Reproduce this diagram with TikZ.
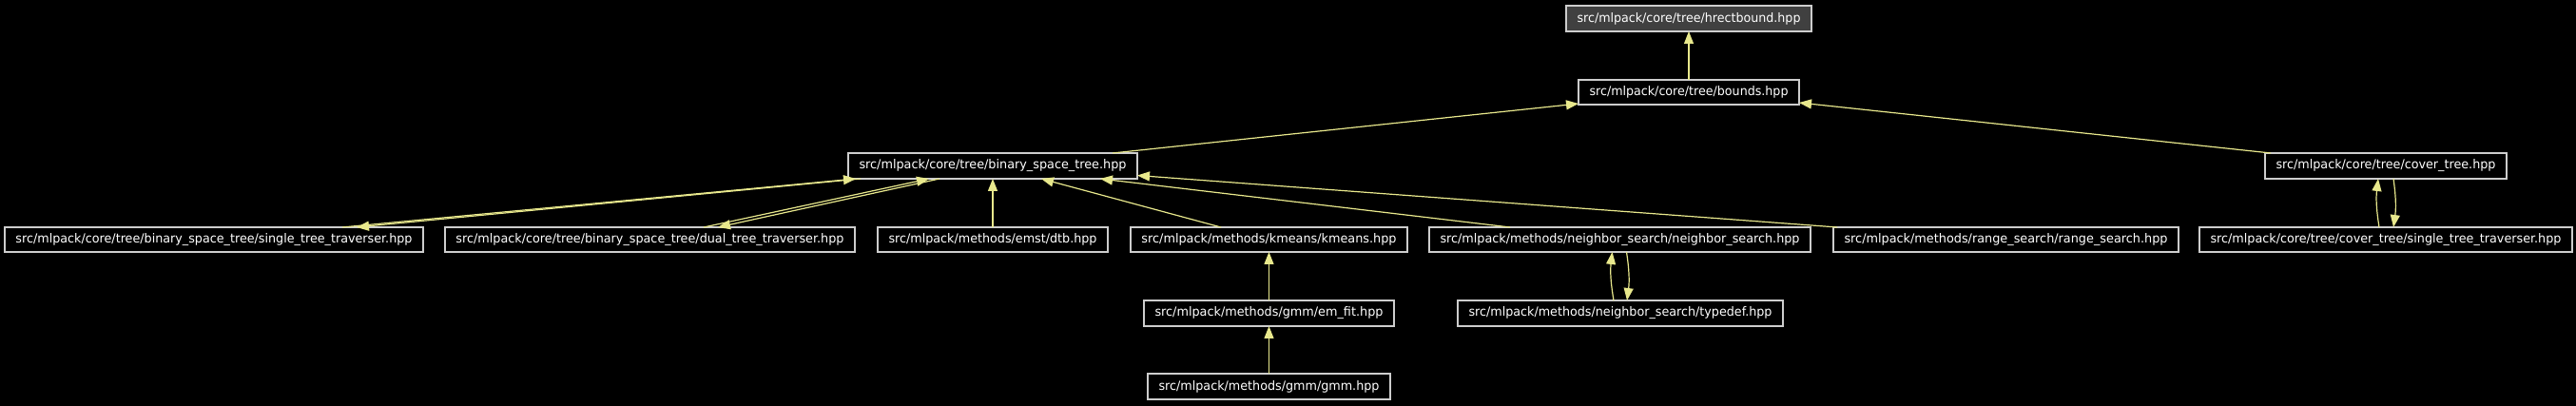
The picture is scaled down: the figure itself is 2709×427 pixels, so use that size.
\documentclass[tikz,border=0pt]{standalone}
\usepackage{fontspec}
\setmainfont{DejaVu Sans}
\usepackage{graphicx}
\usetikzlibrary{arrows.meta}
\definecolor{edgec}{RGB}{232,232,140}
\definecolor{boxc}{RGB}{205,205,205}
\definecolor{hfill}{RGB}{64,64,64}
\newcommand\gnode[7][]{%
  \pgfmathsetlengthmacro\gw{(#4-#3)*1pt}%
  \pgfmathsetlengthmacro\gh{(#6-#5)*1pt}%
  \pgfmathsetlengthmacro\gtw{(#4-#3-23)*1pt}%
  \node[gbox,#1,minimum width=\gw,minimum height=\gh] (#2) at ({(#3+#4)/2},{(#5+#6)/2}) {\resizebox{\gtw}{10pt}{#7}};%
}
\begin{document}
\begin{tikzpicture}[x=1pt,y=-1pt,
  gbox/.style={rectangle,draw=boxc,line width=1.3pt,fill=black,text=white,inner sep=0pt,outer sep=0pt},
  dep/.style={draw=edgec,line width=1.2pt,-{Triangle[length=13pt,width=10pt]}}]
\fill[black] (0,0) rectangle (2709,427);
\useasboundingbox (0,0) rectangle (2709,427);
\gnode[fill=hfill]{hrect}{1647}{1905}{6}{33}{src/mlpack/core/tree/hrectbound.hpp}
\gnode{bounds}{1660}{1892}{84}{110}{src/mlpack/core/tree/bounds.hpp}
\gnode{bst}{892}{1196}{161}{188}{src/mlpack/core/tree/binary\_space\_tree.hpp}
\gnode{cover}{2382}{2636}{161}{188}{src/mlpack/core/tree/cover\_tree.hpp}
\gnode{bsts}{5}{445}{239}{265}{src/mlpack/core/tree/binary\_space\_tree/single\_tree\_traverser.hpp}
\gnode{dual}{468}{899}{239}{265}{src/mlpack/core/tree/binary\_space\_tree/dual\_tree\_traverser.hpp}
\gnode{dtb}{923}{1165}{239}{265}{src/mlpack/methods/emst/dtb.hpp}
\gnode{kmeans}{1189}{1480}{239}{265}{src/mlpack/methods/kmeans/kmeans.hpp}
\gnode{ns}{1503}{1904}{239}{265}{src/mlpack/methods/neighbor\_search/neighbor\_search.hpp}
\gnode{rs}{1928}{2291}{239}{265}{src/mlpack/methods/range\_search/range\_search.hpp}
\gnode{csts}{2313}{2705}{239}{265}{src/mlpack/core/tree/cover\_tree/single\_tree\_traverser.hpp}
\gnode{emfit}{1203}{1466}{316}{343}{src/mlpack/methods/gmm/em\_fit.hpp}
\gnode{typedef}{1533}{1875}{316}{343}{src/mlpack/methods/neighbor\_search/typedef.hpp}
\gnode{gmm}{1207}{1462}{393}{420}{src/mlpack/methods/gmm/gmm.hpp}
\draw[dep] (bounds.north) -- (hrect.south);
\draw[dep] ([xshift=-26pt]bst.north east) -- ([yshift=1pt]bounds.south west);
\draw[dep] ([xshift=6pt]cover.north west) -- ([yshift=2pt]bounds.south east);
\draw[dep] ([xshift=355pt]bsts.north west) -- ([xshift=8pt]bst.south west);
\draw[dep] ([xshift=13pt]bst.south west) -- ([xshift=370pt]bsts.north west);
\draw[dep] ([xshift=272pt]dual.north west) -- ([xshift=85pt]bst.south west);
\draw[dep] ([xshift=96pt]bst.south west) -- ([xshift=287pt]dual.north west);
\draw[dep] (dtb.north) -- (bst.south);
\draw[dep] ([xshift=95pt]kmeans.north west) -- ([xshift=203pt]bst.south west);
\draw[dep] ([xshift=85pt]ns.north west) -- ([xshift=-39pt]bst.south east);
\draw[dep] ([xshift=4pt]rs.north west) -- ([yshift=-10pt]bst.east);
\draw[dep] (emfit.north) -- (kmeans.south);
\draw[dep] (gmm.north) -- (emfit.south);
\draw[dep] ([xshift=-7pt]typedef.north) to[bend left=8] ([xshift=-8pt]ns.south);
\draw[dep] ([xshift=7pt]ns.south) to[bend left=8] ([xshift=7pt]typedef.north);
\draw[dep] ([xshift=-7pt]csts.north) to[bend left=8] ([xshift=-8pt]cover.south);
\draw[dep] ([xshift=8pt]cover.south) to[bend left=8] ([xshift=8pt]csts.north);
\end{tikzpicture}
\end{document}
